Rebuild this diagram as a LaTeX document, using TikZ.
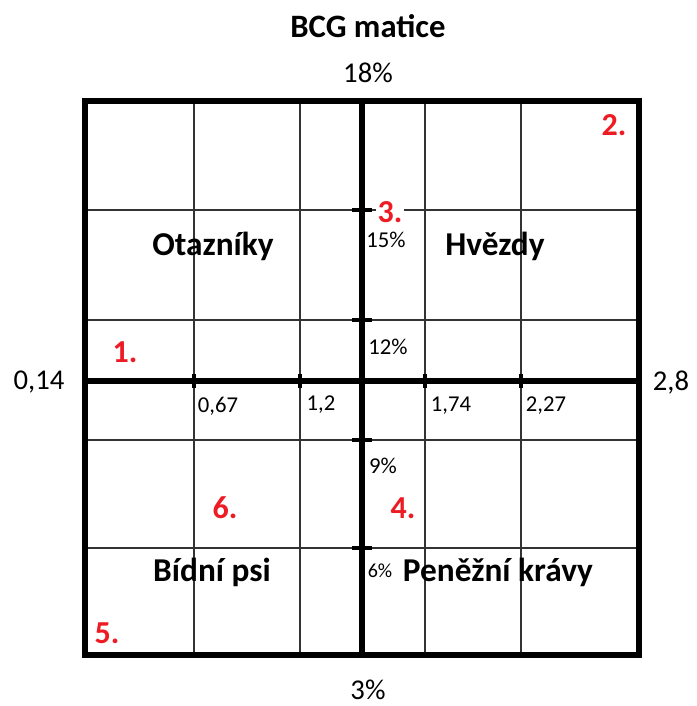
\documentclass[tikz,border=0pt]{standalone}
\usepackage{fontspec}
\setmainfont{Carlito}

\definecolor{numred}{RGB}{237,28,36}

\tikzset{every picture/.style={line width=0.75pt}}
\tikzset{
  thinline/.style={line width=1.1pt, color=black!80},
  thickline/.style={line width=4.5pt},
  tickline/.style={line width=2.3pt},
  quadlabel/.style={font=\fontsize{25}{29}\selectfont\bfseries},
  axislabel/.style={font=\fontsize{21.5}{25}\selectfont},
  ticklabel/.style={font=\fontsize{17}{20}\selectfont, inner sep=0pt},
  rednum/.style={font=\fontsize{24}{28}\selectfont\bfseries, text=numred, inner sep=1pt}
}

\begin{document}
\begin{tikzpicture}[x=0.75pt,y=0.75pt,yscale=-1]
\path (0,0) rectangle (696,706);

%Thin grid lines
\foreach \gx in {194,300,425,521} \draw[thinline] (\gx,101) -- (\gx,655);
\foreach \gy in {210,320,440,548} \draw[thinline] (85,\gy) -- (639,\gy);

%Outer frame and axes
\draw[thickline] (85,101) rectangle (639,655);
\draw[thickline] (362,101) -- (362,655) (85,381) -- (639,381);

%Tick marks
\foreach \gx in {194,300,425,521} \draw[tickline] (\gx,374) -- (\gx,388);
\foreach \gy in {210,320,440,548} \draw[tickline] (352,\gy) -- (372,\gy);

% Text Node
\node[quadlabel, font=\fontsize{24.5}{28}\selectfont\bfseries] (title) at (368,26) {BCG matice};
% Text Node
\node[axislabel] (gtop) at (368,73) {18\%};
% Text Node
\node[axislabel] (gbottom) at (368,690) {3\%};
% Text Node
\node[axislabel] (sleft) at (39,382) {0,14};
% Text Node
\node[axislabel] (sright) at (671,383) {2,8};

% Text Node
\node[quadlabel] (otazniky) at (213,246) {Otazníky};
% Text Node
\node[quadlabel] (hvezdy) at (495,246) {Hvězdy};
% Text Node
\node[quadlabel] (bidnipsi) at (212,572) {Bídní psi};
% Text Node
\node[quadlabel] (kravy) at (498,572) {Peněžní krávy};

% Text Node
\node[ticklabel] (t067) at (218,406) {0,67};
% Text Node
\node[ticklabel] (t12) at (321,405) {1,2};
% Text Node
\node[ticklabel] (t174) at (451,406) {1,74};
% Text Node
\node[ticklabel] (t227) at (546,406) {2,27};
% Text Node
\node[ticklabel] (g15) at (386,240) {15\%};
% Text Node
\node[ticklabel] (g12) at (388,347) {12\%};
% Text Node
\node[ticklabel] (g9) at (383,466) {9\%};
% Text Node
\node[ticklabel, font=\fontsize{15}{18}\selectfont] (g6) at (380,571) {6\%};

% Text Node
\node[rednum] (n1) at (125,352) {1.};
% Text Node
\node[rednum] (n2) at (614,125) {2.};
% Text Node
\node[rednum, fill=white] (n3) at (390,212) {3.};
% Text Node
\node[rednum] (n4) at (403,508) {4.};
% Text Node
\node[rednum] (n5) at (107,633) {5.};
% Text Node
\node[rednum] (n6) at (225,508) {6.};

\end{tikzpicture}
\end{document}
